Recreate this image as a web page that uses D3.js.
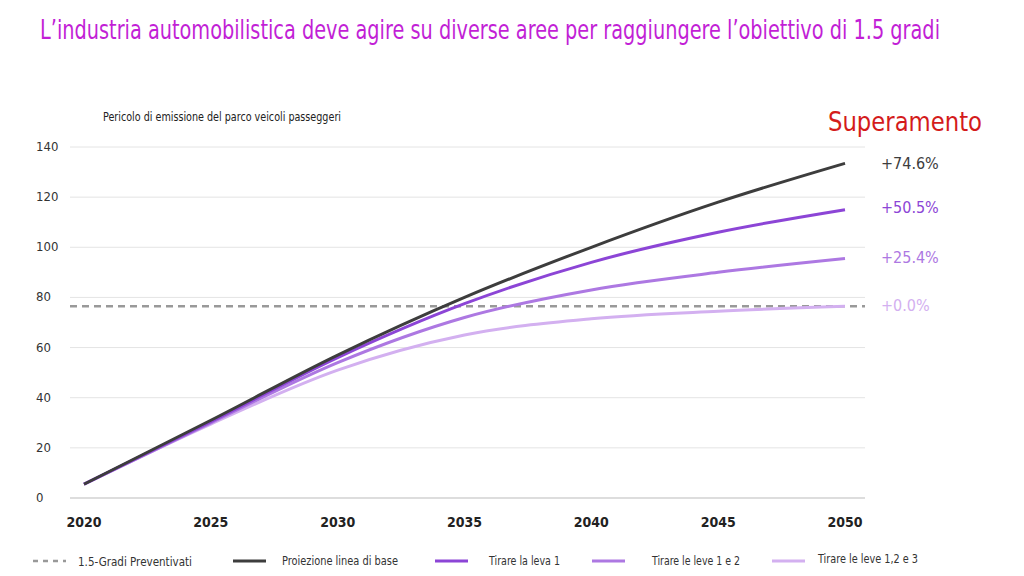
<!DOCTYPE html><html><head><meta charset="utf-8">
<script src="https://cdn.jsdelivr.net/npm/d3@7"></script>
<style>body{margin:0;background:#fff}text{font-family:"DejaVu Sans Condensed","Liberation Sans",sans-serif}</style></head><body>
<svg id="c" width="1024" height="576"></svg>
<script>
const years=[2020,2025,2030,2035,2040,2045,2050];
const baseline=[5.5,31,57,80,100,118,133.5];
const lever1=[5.5,30.5,56,77.5,94,106,115];
const lever12=[5.5,30,54,72,83,90,95.5];
const lever123=[5.5,29.5,51,65,71.5,74.5,76.5];
const target=76.5;
const yTicks=[0,20,40,60,80,100,120,140];
const labels=["+74.6%","+50.5%","+25.4%","+0.0%"];
const names=["Proiezione linea di base","Tirare la leva 1","Tirare le leve 1 e 2","Tirare le leve 1,2 e 3"];
const colors=["#3d3d3d","#8c45d6","#ad78e2","#d3b0f0"];
const series=[baseline,lever1,lever12,lever123];

const svg=d3.select("#c");
const x=d3.scaleLinear().domain([2020,2050]).range([84,845]);
const y=d3.scaleLinear().domain([0,140]).range([498,147]);
function fit(sel,w){return sel.attr("textLength",w).attr("lengthAdjust","spacingAndGlyphs");}
fit(svg.append("text").attr("x",40).attr("y",39).attr("fill","#c21fd6").attr("font-size",27)
 .text("L’industria automobilistica deve agire su diverse aree per raggiungere l’obiettivo di 1.5 gradi"),900);
fit(svg.append("text").attr("x",103).attr("y",121).attr("font-size",13).attr("fill","#222").text("Pericolo di emissione del parco veicoli passeggeri"),238);
fit(svg.append("text").attr("x",828).attr("y",131).attr("font-size",27).attr("fill","#d41b1b").text("Superamento"),154);
yTicks.forEach(t=>{
 svg.append("line").attr("x1",70).attr("x2",865).attr("y1",y(t)).attr("y2",y(t)).attr("stroke",t==0?"#bbb":"#e4e4e4");
 svg.append("text").attr("x",36).attr("y",y(t)+4).attr("font-size",13).attr("fill","#333").attr("font-family","Liberation Sans").text(t);
});
years.forEach(t=>svg.append("text").attr("x",x(t)).attr("y",527).attr("text-anchor","middle").attr("font-size",14).attr("font-weight","bold").attr("fill","#222").attr("font-family","Liberation Sans").text(t));
svg.append("line").attr("x1",70).attr("x2",865).attr("y1",y(target)).attr("y2",y(target)).attr("stroke","#999").attr("stroke-width",2.5).attr("stroke-dasharray","7,5");
const line=d3.line().x((d,i)=>x(years[i])).y(d=>y(d)).curve(d3.curveMonotoneX);
series.slice().reverse().forEach((s,k)=>{const i=3-k;
 svg.append("path").attr("d",line(s)).attr("fill","none").attr("stroke",colors[i]).attr("stroke-width",3);});
const ldy=[6,3,4,5];
series.forEach((s,i)=>svg.append("text").attr("x",881).attr("y",y(s[6])+ldy[i]).attr("font-size",16).attr("font-family","Liberation Sans").attr("fill",colors[i]).text(labels[i]));
// legend
const ly=561;
svg.append("line").attr("x1",33).attr("x2",66).attr("y1",ly).attr("y2",ly).attr("stroke","#999").attr("stroke-width",2.5).attr("stroke-dasharray","5,5");
fit(svg.append("text").attr("x",78).attr("y",ly+5).attr("font-size",13).attr("fill","#333").text("1.5-Gradi Preventivati"),114);
const lx=[233,435,592,772], tx=[282,489,652,818], tw=[116,71,88,100];
names.forEach((n,i)=>{
 svg.append("line").attr("x1",lx[i]).attr("x2",lx[i]+33).attr("y1",ly).attr("y2",ly).attr("stroke",colors[i]).attr("stroke-width",3);
 fit(svg.append("text").attr("x",tx[i]).attr("y",ly+4-(i==3?2:0)).attr("font-size",13).attr("fill","#333").text(n),tw[i]);
});
</script></body></html>
